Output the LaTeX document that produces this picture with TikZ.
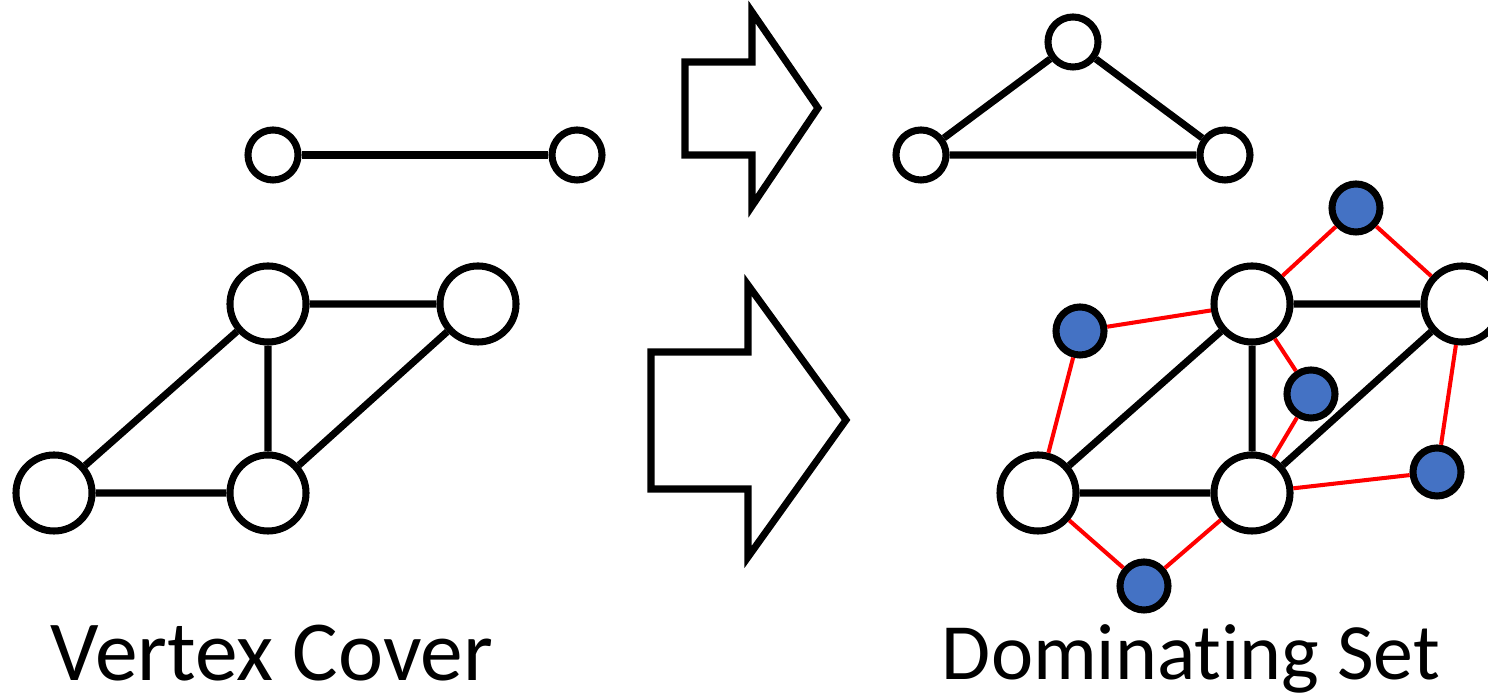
\documentclass[tikz,border=0pt]{standalone}
\usepackage{fontspec}
\setmainfont{Carlito}[Ligatures=NoCommon]
\definecolor{dsblue}{HTML}{4472C4}
\tikzset{
  big/.style={circle,draw=black,fill=white,line width=2pt,minimum size=0.76cm,inner sep=0pt},
  small/.style={circle,draw=black,fill=white,line width=2pt,minimum size=0.5cm,inner sep=0pt},
  dom/.style={circle,draw=black,fill=dsblue,line width=2pt,minimum size=0.48cm,inner sep=0pt},
  edge/.style={line width=2pt,draw=black},
  redge/.style={line width=1.15pt,draw=red},
  bigarrow/.style={line width=2pt,draw=black,fill=white,line join=miter},
  label/.style={anchor=base,inner sep=0pt}
}
\begin{document}
\begin{tikzpicture}[x=0.01cm,y=-0.01cm]
\useasboundingbox (0,0) rectangle (1488,698);
% top left
\node[small] (a1) at (273,155) {};
\node[small] (a2) at (577,155) {};
\draw[edge] (a1) -- (a2);
% top right triangle
\node[small] (b1) at (1073,42) {};
\node[small] (b2) at (921,155) {};
\node[small] (b3) at (1225,155) {};
\draw[edge] (b1) -- (b2) (b1) -- (b3) (b2) -- (b3);
% bottom left
\node[big] (c1) at (268,304) {};
\node[big] (c2) at (478,304) {};
\node[big] (c3) at (54,493) {};
\node[big] (c4) at (268,493) {};
\draw[edge] (c1) -- (c2) (c1) -- (c4) (c1) -- (c3) (c2) -- (c4) (c3) -- (c4);
% bottom right
\node[big] (d1) at (1252,304) {};
\node[big] (d2) at (1462,304) {};
\node[big] (d3) at (1038,493) {};
\node[big] (d4) at (1252,493) {};
\node[dom] (e1) at (1356,208) {};
\node[dom] (e2) at (1080,331) {};
\node[dom] (e3) at (1311,394) {};
\node[dom] (e4) at (1437,472) {};
\node[dom] (e5) at (1144,586) {};
\draw[redge] (e1) -- (d1) (e1) -- (d2) (e2) -- (d1) (e2) -- (d3) (e3) -- (d1) (e3) -- (d4) (e4) -- (d2) (e4) -- (d4) (e5) -- (d3) (e5) -- (d4);
\draw[edge] (d1) -- (d2) (d1) -- (d4) (d1) -- (d3) (d2) -- (d4) (d3) -- (d4);
% arrows
\draw[bigarrow] (685,62) -- (752,62) -- (752,12) -- (818,108) -- (752,206) -- (752,155) -- (685,155) -- cycle;
\draw[bigarrow] (651,352) -- (748,352) -- (748,285) -- (846,420) -- (748,557) -- (748,489) -- (651,489) -- cycle;
% labels
\node[label,font=\fontsize{24.3}{29}\selectfont] (t1) at (272,681) {Vertex Cover};
\node[label,font=\fontsize{22.7}{27}\selectfont] (t2) at (1191,680) {Dominating Set};
\end{tikzpicture}
\end{document}
